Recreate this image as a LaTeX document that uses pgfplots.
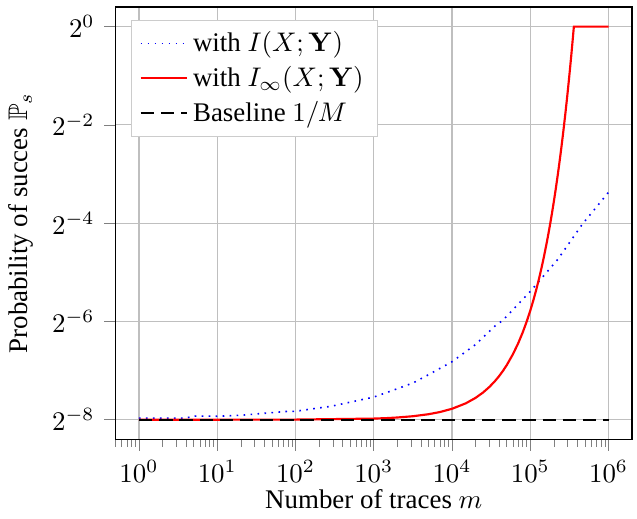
\documentclass[border=0pt]{standalone}
\usepackage[no-math]{fontspec}
\setmainfont{Liberation Serif}
\usepackage{amssymb}
\usepackage{pgfplots}
\pgfplotsset{compat=1.18}
\begin{document}
\begin{tikzpicture}
  \begin{axis}[
      scale only axis,
      width=192pt,
      height=160.7pt,
      xmode=log,
      ymode=log,
      log basis y=2,
      enlargelimits=0.05,
      ytick={0.00390625,0.015625,0.0625,0.25,1},
      xtick pos=bottom,
      ytick pos=left,
      tick align=outside,
      grid=major,
      xlabel={Number of traces $m$},
      xlabel style={yshift=4pt},
      ylabel={Probability of succes $\mathbb{P}_s$},
      legend pos=north west,
      legend style={draw=black!20, font=\normalsize},
      legend cell align=left,
  ]
  % mutual information
  \addplot[blue, semithick, dotted] coordinates {
      (1, 0.0039966)
      (4, 0.0039966)
      (5, 0.0041119)
      (10, 0.0041005)
      (20, 0.0041577)
      (40, 0.0042746)
      (80, 0.0043947)
      (100, 0.0043947)
      (200, 0.0046132)
      (280, 0.0047102)
      (1000, 0.0053732)
      (2000, 0.0060449)
      (3200, 0.0065695)
      (5200, 0.0074426)
      (10000, 0.0088506)
      (20000, 0.011281)
      (36700, 0.014885)
      (43700, 0.015734)
      (100000, 0.023847)
      (224000, 0.037424)
      (463000, 0.061639)
      (1000000, 0.096723)
  };
  \addlegendentry{with $I(X;\mathbf{Y})$}

  % infinity order
  \addplot[red, thick] coordinates {
      (1, 0.0039063)
      (10, 0.0039063)
      (100, 0.003912)
      (1000, 0.0039668)
      (1500, 0.0039975)
      (2000, 0.0040284)
      (3162, 0.0041012)
      (5000, 0.0042187)
      (7000, 0.0043505)
      (10000, 0.004556)
      (15000, 0.0049205)
      (20000, 0.005314)
      (25000, 0.005739)
      (30000, 0.006199)
      (35000, 0.0066935)
      (40000, 0.007229)
      (45000, 0.0078071)
      (50000, 0.008432)
      (60000, 0.009834)
      (70000, 0.01147)
      (80000, 0.013378)
      (90000, 0.015603)
      (100000, 0.018199)
      (110000, 0.021227)
      (120000, 0.024757)
      (130000, 0.028877)
      (140000, 0.033677)
      (150000, 0.039282)
      (160000, 0.045816)
      (170000, 0.05344)
      (180000, 0.062327)
      (190000, 0.0727)
      (200000, 0.08479)
      (210000, 0.098895)
      (220000, 0.11534)
      (230000, 0.13454)
      (240000, 0.15691)
      (250000, 0.18301)
      (260000, 0.21344)
      (270000, 0.24896)
      (280000, 0.29039)
      (290000, 0.33869)
      (300000, 0.39503)
      (310000, 0.46074)
      (320000, 0.53738)
      (330000, 0.6268)
      (340000, 0.73101)
      (350000, 0.85266)
      (355000, 0.92082)
      (360500, 1)
      (1000000, 1)
  };
  \addlegendentry{with $I_\infty(X;\mathbf{Y})$}

  % random guess
  \addplot[black, thick, dash pattern=on 5pt off 2.5pt] coordinates {
      (1, 0.00390625)
      (1000000, 0.00390625)
  };
  \addlegendentry{Baseline $1/M$}
  \end{axis}
  \path (current axis.north) ++(0,2.6pt);
\end{tikzpicture}
\end{document}
